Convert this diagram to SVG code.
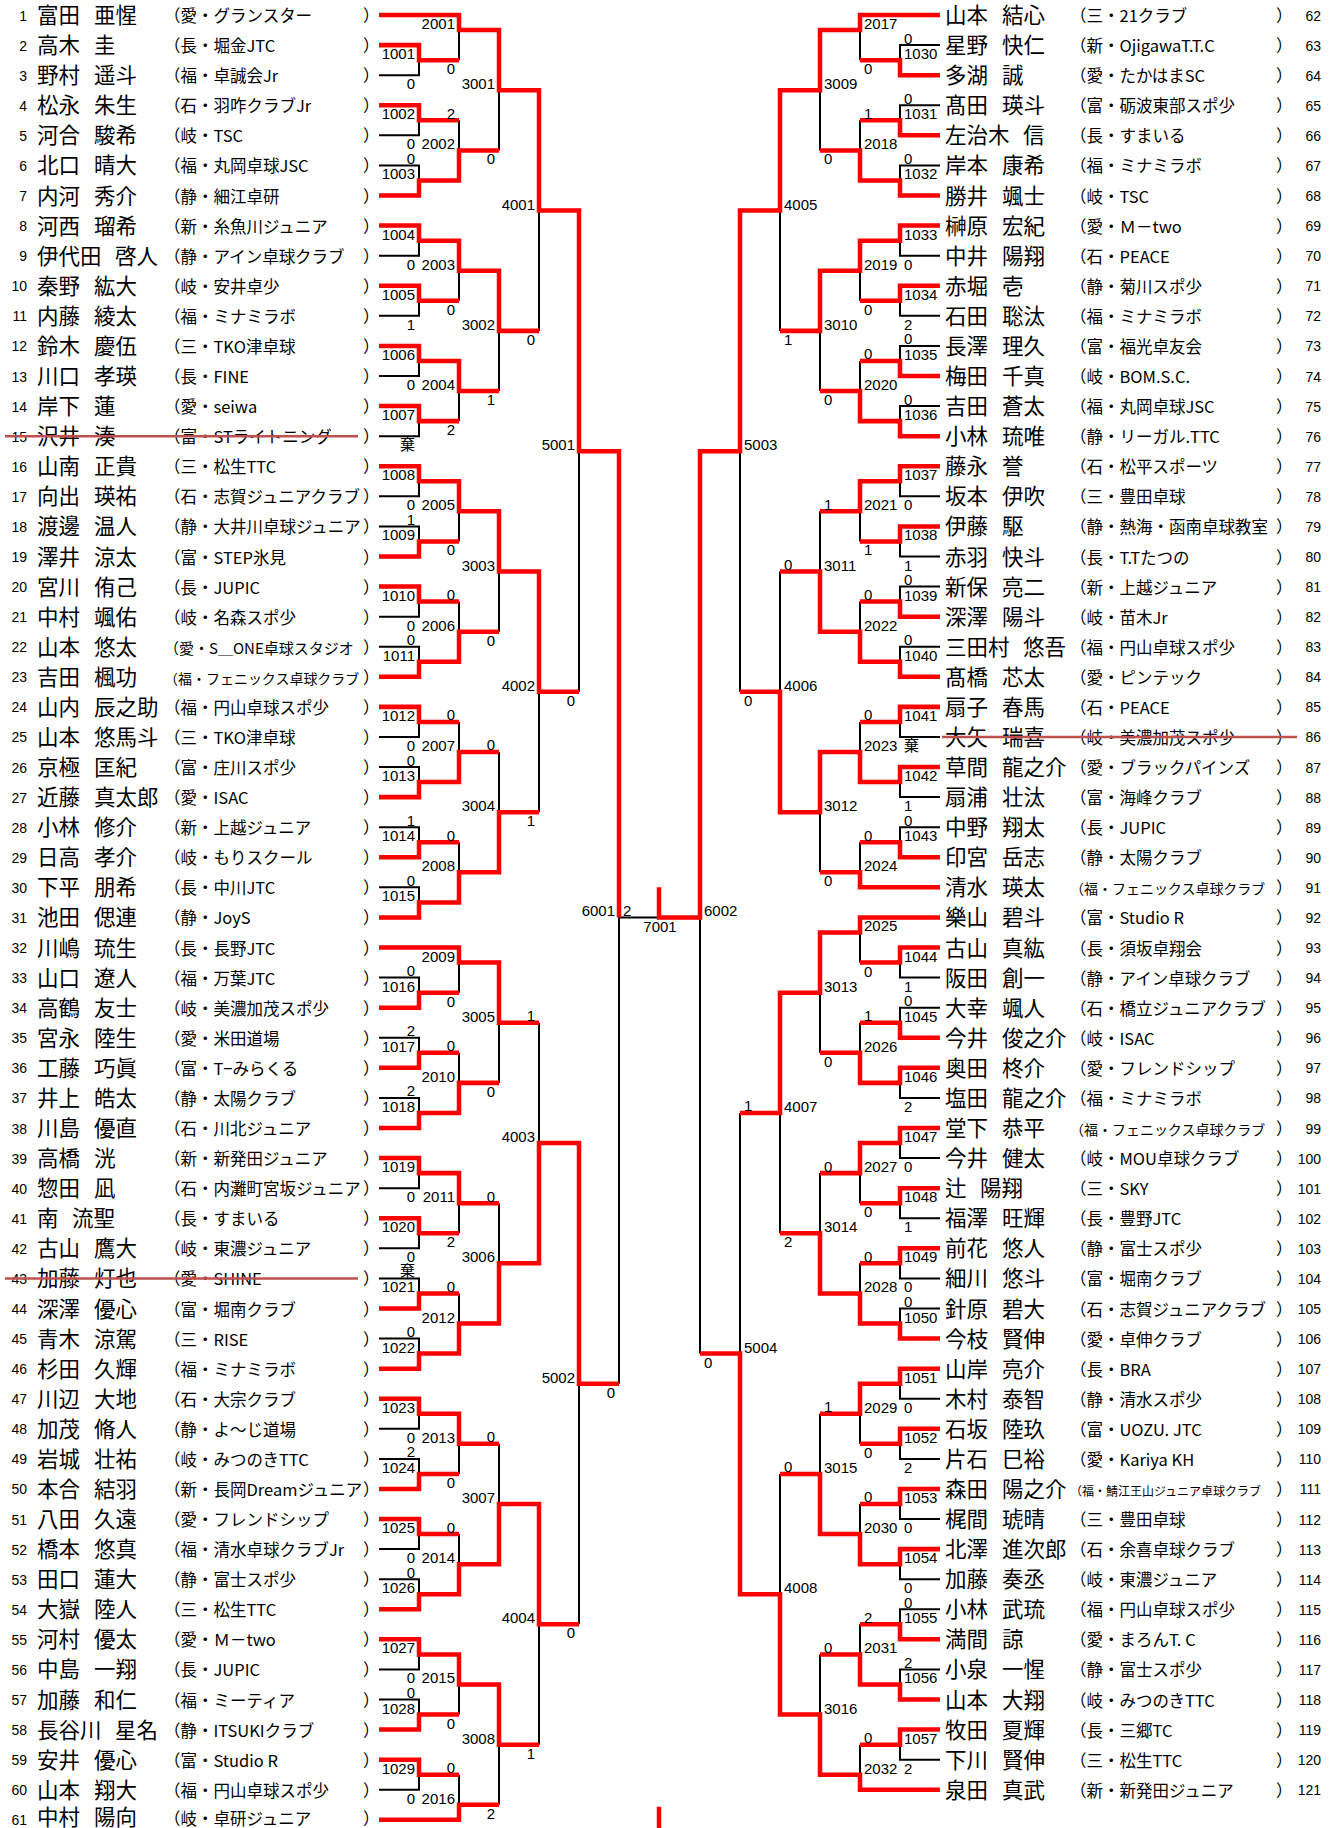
<svg xmlns="http://www.w3.org/2000/svg" width="1337" height="1828" viewBox="0 0 1337 1828">
<style>
.no{font:14px "Liberation Sans",Arial,sans-serif;text-anchor:end}
.nm{font:21.5px "Noto Sans CJK JP",sans-serif}
.cl{font:16.5px "Noto Sans CJK JP",sans-serif}
.cs{font-size:14px}
.cx{font-size:12px}
.lb{font:15px "Liberation Sans",Arial,sans-serif}
.e{text-anchor:end}
.m{text-anchor:middle}
.ki{font:15px "Noto Sans CJK JP",sans-serif}
.bk{fill:none;stroke:#000;stroke-width:2}
.rd{fill:none;stroke:#f00;stroke-width:4.5;stroke-linejoin:miter}
.sk{stroke:#c0504d;stroke-width:2.5}
</style>
<rect width="1337" height="1828" fill="#fff"/>
<g transform="matrix(1 0 0 1.002667 0 0)">
<g id="connectors">
<path class="bk" d="M379,15H459M379,45H419V75H379M419,60H459M379,105H419V135H379M419,120H459M379,165H419V195H379M419,180H459M379,225H419V255H379M419,240H459M379,285H419V315H379M419,300H459M379,345H419V375H379M419,360H459M379,405H419V435H379M419,420H459M379,465H419V495H379M419,480H459M379,525H419V555H379M419,540H459M379,585H419V615H379M419,600H459M379,645H419V675H379M419,660H459M379,705H419V735H379M419,720H459M379,765H419V795H379M419,780H459M379,825H419V855H379M419,840H459M379,885H419V915H379M419,900H459M379,945H459M379,975H419V1005H379M419,990H459M379,1035H419V1065H379M419,1050H459M379,1095H419V1125H379M419,1110H459M379,1155H419V1185H379M419,1170H459M379,1215H419V1245H379M419,1230H459M379,1275H419V1305H379M419,1290H459M379,1335H419V1365H379M419,1350H459M379,1395H419V1425H379M419,1410H459M379,1455H419V1485H379M419,1470H459M379,1515H419V1545H379M419,1530H459M379,1575H419V1605H379M419,1590H459M379,1635H419V1665H379M419,1650H459M379,1695H419V1725H379M419,1710H459M379,1755H419V1785H379M419,1770H459M379,1815H459
M459,15V60M459,30H499M459,120V180M459,150H499M459,240V300M459,270H499M459,360V420M459,390H499M459,480V540M459,510H499M459,600V660M459,630H499M459,720V780M459,750H499M459,840V900M459,870H499M459,945V990M459,960H499M459,1050V1110M459,1080H499M459,1170V1230M459,1200H499M459,1290V1350M459,1320H499M459,1410V1470M459,1440H499M459,1530V1590M459,1560H499M459,1650V1710M459,1680H499M459,1770V1815M459,1800H499
M499,30V150M499,90H539M499,270V390M499,330H539M499,510V630M499,570H539M499,750V870M499,810H539M499,960V1080M499,1020H539M499,1200V1320M499,1260H539M499,1440V1560M499,1500H539M499,1680V1800M499,1740H539
M539,90V330M539,210H579M539,570V810M539,690H579M539,1020V1260M539,1140H579M539,1500V1740M539,1620H579
M579,210V690M579,450H619M579,1140V1620M579,1380H619M619,450V1380M619,915H700"/>
<path class="bk" d="M940,15H860M940,45H900V75H940M900,60H860M940,105H900V135H940M900,120H860M940,165H900V195H940M900,180H860M940,225H900V255H940M900,240H860M940,285H900V315H940M900,300H860M940,345H900V375H940M900,360H860M940,405H900V435H940M900,420H860M940,465H900V495H940M900,480H860M940,525H900V555H940M900,540H860M940,585H900V615H940M900,600H860M940,645H900V675H940M900,660H860M940,705H900V735H940M900,720H860M940,765H900V795H940M900,780H860M940,825H900V855H940M900,840H860M940,885H860M940,915H860M940,945H900V975H940M900,960H860M940,1005H900V1035H940M900,1020H860M940,1065H900V1095H940M900,1080H860M940,1125H900V1155H940M900,1140H860M940,1185H900V1215H940M900,1200H860M940,1245H900V1275H940M900,1260H860M940,1305H900V1335H940M900,1320H860M940,1365H900V1395H940M900,1380H860M940,1425H900V1455H940M900,1440H860M940,1485H900V1515H940M900,1500H860M940,1545H900V1575H940M900,1560H860M940,1605H900V1635H940M900,1620H860M940,1665H900V1695H940M900,1680H860M940,1725H900V1755H940M900,1740H860M940,1785H860
M860,15V60M860,30H820M860,120V180M860,150H820M860,240V300M860,270H820M860,360V420M860,390H820M860,480V540M860,510H820M860,600V660M860,630H820M860,720V780M860,750H820M860,840V885M860,870H820M860,915V960M860,930H820M860,1020V1080M860,1050H820M860,1140V1200M860,1170H820M860,1260V1320M860,1290H820M860,1380V1440M860,1410H820M860,1500V1560M860,1530H820M860,1620V1680M860,1650H820M860,1740V1785M860,1770H820
M820,30V150M820,90H780M820,270V390M820,330H780M820,510V630M820,570H780M820,750V870M820,810H780M820,930V1050M820,990H780M820,1170V1290M820,1230H780M820,1410V1530M820,1470H780M820,1650V1770M820,1710H780
M780,90V330M780,210H740M780,570V810M780,690H740M780,990V1230M780,1110H740M780,1470V1710M780,1590H740
M740,210V690M740,450H700M740,1110V1590M740,1350H700M700,450V1350"/>
<path class="rd" d="M379,15H459V30H499V90H539V210H579V450H619V915M379,45H419V60H459M379,105H419V120H459M379,195H419V180H459V150H499M379,225H419V240H459V270H499V330H539M379,285H419V300H459M379,345H419V360H459V390H499M379,405H419V420H459M379,465H419V480H459V510H499V570H539V690H579M379,555H419V540H459M379,585H419V600H459M379,675H419V660H459V630H499M379,705H419V720H459M379,795H419V780H459V750H499M379,855H419V840H459M379,915H419V900H459V870H499V810H539M379,945H459V960H499V1020H539M379,1005H419V990H459M379,1065H419V1050H459M379,1125H419V1110H459V1080H499M379,1155H419V1170H459V1200H499M379,1215H419V1230H459M379,1305H419V1290H459M379,1365H419V1350H459V1320H499V1260H539V1140H579V1380H619M379,1395H419V1410H459V1440H499M379,1485H419V1470H459M379,1515H419V1530H459M379,1605H419V1590H459V1560H499V1500H539V1620H579M379,1635H419V1650H459V1680H499V1740H539M379,1725H419V1710H459M379,1755H419V1770H459M379,1815H459V1800H499"/>
<path class="rd" d="M940,15H860V30H820V90H780V210H740V450H700V915H659V885M940,75H900V60H860M940,135H900V120H860M940,195H900V180H860V150H820M940,225H900V240H860V270H820V330H780M940,285H900V300H860M940,375H900V360H860M940,435H900V420H860V390H820M940,465H900V480H860V510H820M940,525H900V540H860M940,615H900V600H860M940,675H900V660H860V630H820V570H780M940,705H900V720H860M940,765H900V780H860V750H820V810H780V690H740M940,855H900V840H860M940,885H860V870H820M940,915H860V930H820V990H780V1110H740M940,945H900V960H860M940,1035H900V1020H860M940,1065H900V1080H860V1050H820M940,1125H900V1140H860V1170H820M940,1185H900V1200H860M940,1245H900V1260H860M940,1335H900V1320H860V1290H820V1230H780M940,1365H900V1380H860V1410H820M940,1425H900V1440H860M940,1485H900V1500H860M940,1545H900V1560H860V1530H820V1470H780M940,1635H900V1620H860M940,1695H900V1680H860V1650H820M940,1725H900V1740H860M940,1785H860V1770H820V1710H780V1590H740V1350H700M659,1802V1830"/>
</g>
<g id="labels" class="lb">
<g class="e">
<text x="415" y="59">1001</text><text x="415" y="119">1002</text><text x="415" y="179">1003</text><text x="415" y="239">1004</text><text x="415" y="299">1005</text><text x="415" y="359">1006</text><text x="415" y="419">1007</text><text x="415" y="479">1008</text><text x="415" y="539">1009</text><text x="415" y="599">1010</text><text x="415" y="659">1011</text><text x="415" y="719">1012</text><text x="415" y="779">1013</text><text x="415" y="839">1014</text><text x="415" y="899">1015</text><text x="415" y="989">1016</text><text x="415" y="1049">1017</text><text x="415" y="1109">1018</text><text x="415" y="1169">1019</text><text x="415" y="1229">1020</text><text x="415" y="1289">1021</text><text x="415" y="1349">1022</text><text x="415" y="1409">1023</text><text x="415" y="1469">1024</text><text x="415" y="1529">1025</text><text x="415" y="1589">1026</text><text x="415" y="1649">1027</text><text x="415" y="1709">1028</text><text x="415" y="1769">1029</text>
<text x="455" y="29">2001</text><text x="455" y="149">2002</text><text x="455" y="269">2003</text><text x="455" y="389">2004</text><text x="455" y="509">2005</text><text x="455" y="629">2006</text><text x="455" y="749">2007</text><text x="455" y="869">2008</text><text x="455" y="959">2009</text><text x="455" y="1079">2010</text><text x="455" y="1199">2011</text><text x="455" y="1319">2012</text><text x="455" y="1439">2013</text><text x="455" y="1559">2014</text><text x="455" y="1679">2015</text><text x="455" y="1799">2016</text>
<text x="495" y="89">3001</text><text x="495" y="329">3002</text><text x="495" y="569">3003</text><text x="495" y="809">3004</text><text x="495" y="1019">3005</text><text x="495" y="1259">3006</text><text x="495" y="1499">3007</text><text x="495" y="1739">3008</text>
<text x="535" y="209">4001</text><text x="535" y="689">4002</text><text x="535" y="1139">4003</text><text x="535" y="1619">4004</text>
<text x="575" y="449">5001</text><text x="575" y="1379">5002</text><text x="615" y="914">6001</text>
<text x="415" y="89">0</text><text x="415" y="149">0</text><text x="415" y="163.5">0</text><text x="415" y="269">0</text><text x="415" y="329">1</text><text x="415" y="389">0</text><text x="415" y="509">0</text><text x="415" y="523.5">1</text><text x="415" y="629">0</text><text x="415" y="643.5">0</text><text x="415" y="749">0</text><text x="415" y="763.5">0</text><text x="415" y="823.5">1</text><text x="415" y="883.5">0</text><text x="415" y="973.5">0</text><text x="415" y="1033.5">2</text><text x="415" y="1093.5">2</text><text x="415" y="1199">0</text><text x="415" y="1259">0</text><text x="415" y="1333.5">0</text><text x="415" y="1439">0</text><text x="415" y="1453.5">2</text><text x="415" y="1559">0</text><text x="415" y="1573.5">0</text><text x="415" y="1679">0</text><text x="415" y="1693.5">0</text><text x="415" y="1799">0</text>
<text x="455" y="74">0</text><text x="455" y="118.5">2</text><text x="455" y="314">0</text><text x="455" y="434">2</text><text x="455" y="554">0</text><text x="455" y="598.5">0</text><text x="455" y="718.5">0</text><text x="455" y="838.5">0</text><text x="455" y="1004">0</text><text x="455" y="1048.5">0</text><text x="455" y="1244">2</text><text x="455" y="1288.5">0</text><text x="455" y="1484">0</text><text x="455" y="1528.5">0</text><text x="455" y="1724">0</text><text x="455" y="1768.5">0</text>
<text x="495" y="164">0</text><text x="495" y="404">1</text><text x="495" y="644">0</text><text x="495" y="748.5">0</text><text x="495" y="1094">0</text><text x="495" y="1198.5">0</text><text x="495" y="1438.5">0</text><text x="495" y="1814">2</text>
<text x="535" y="344">0</text><text x="535" y="824">1</text><text x="535" y="1018.5">1</text><text x="535" y="1754">1</text>
<text x="575" y="704">0</text><text x="575" y="1634">0</text><text x="615" y="1394">0</text>
</g>
<text x="623" y="914">2</text><text class="m" x="660" y="930">7001</text><text x="704" y="914">6002</text>
<text x="904" y="59">1030</text><text x="904" y="119">1031</text><text x="904" y="179">1032</text><text x="904" y="239">1033</text><text x="904" y="299">1034</text><text x="904" y="359">1035</text><text x="904" y="419">1036</text><text x="904" y="479">1037</text><text x="904" y="539">1038</text><text x="904" y="599">1039</text><text x="904" y="659">1040</text><text x="904" y="719">1041</text><text x="904" y="779">1042</text><text x="904" y="839">1043</text><text x="904" y="959">1044</text><text x="904" y="1019">1045</text><text x="904" y="1079">1046</text><text x="904" y="1139">1047</text><text x="904" y="1199">1048</text><text x="904" y="1259">1049</text><text x="904" y="1319">1050</text><text x="904" y="1379">1051</text><text x="904" y="1439">1052</text><text x="904" y="1499">1053</text><text x="904" y="1559">1054</text><text x="904" y="1619">1055</text><text x="904" y="1679">1056</text><text x="904" y="1739">1057</text>
<text x="864" y="29">2017</text><text x="864" y="149">2018</text><text x="864" y="269">2019</text><text x="864" y="389">2020</text><text x="864" y="509">2021</text><text x="864" y="629">2022</text><text x="864" y="749">2023</text><text x="864" y="869">2024</text><text x="864" y="929">2025</text><text x="864" y="1049">2026</text><text x="864" y="1169">2027</text><text x="864" y="1289">2028</text><text x="864" y="1409">2029</text><text x="864" y="1529">2030</text><text x="864" y="1649">2031</text><text x="864" y="1769">2032</text>
<text x="824" y="89">3009</text><text x="824" y="329">3010</text><text x="824" y="569">3011</text><text x="824" y="809">3012</text><text x="824" y="989">3013</text><text x="824" y="1229">3014</text><text x="824" y="1469">3015</text><text x="824" y="1709">3016</text>
<text x="784" y="209">4005</text><text x="784" y="689">4006</text><text x="784" y="1109">4007</text><text x="784" y="1589">4008</text>
<text x="744" y="449">5003</text><text x="744" y="1349">5004</text>
<text x="904" y="43.5">0</text><text x="904" y="103.5">0</text><text x="904" y="163.5">0</text><text x="904" y="269">0</text><text x="904" y="329">2</text><text x="904" y="343.5">0</text><text x="904" y="403.5">0</text><text x="904" y="509">0</text><text x="904" y="569">1</text><text x="904" y="583.5">0</text><text x="904" y="643.5">0</text><text x="904" y="809">1</text><text x="904" y="823.5">0</text><text x="904" y="989">1</text><text x="904" y="1003.5">0</text><text x="904" y="1109">2</text><text x="904" y="1169">0</text><text x="904" y="1229">1</text><text x="904" y="1289">0</text><text x="904" y="1303.5">0</text><text x="904" y="1409">0</text><text x="904" y="1469">2</text><text x="904" y="1529">0</text><text x="904" y="1589">0</text><text x="904" y="1603.5">0</text><text x="904" y="1663.5">2</text><text x="904" y="1769">2</text>
<text x="864" y="74">0</text><text x="864" y="118.5">1</text><text x="864" y="314">0</text><text x="864" y="358.5">0</text><text x="864" y="554">1</text><text x="864" y="598.5">0</text><text x="864" y="718.5">0</text><text x="864" y="838.5">0</text><text x="864" y="974">0</text><text x="864" y="1018.5">1</text><text x="864" y="1214">0</text><text x="864" y="1258.5">0</text><text x="864" y="1454">0</text><text x="864" y="1498.5">0</text><text x="864" y="1618.5">2</text><text x="864" y="1738.5">0</text>
<text x="824" y="164">0</text><text x="824" y="404">0</text><text x="824" y="508.5">1</text><text x="824" y="884">0</text><text x="824" y="1064">0</text><text x="824" y="1168.5">0</text><text x="824" y="1408.5">1</text><text x="824" y="1648.5">0</text>
<text x="784" y="344">1</text><text x="784" y="568.5">0</text><text x="784" y="1244">2</text><text x="784" y="1468.5">0</text>
<text x="744" y="704">0</text><text x="744" y="1108.5">1</text><text x="704" y="1364">0</text>
<text class="ki e" x="415" y="449">棄</text><text class="ki e" x="415" y="1273">棄</text><text class="ki" x="904" y="749">棄</text>
</g>
<g id="p1" transform="translate(0,15)"><text class="no" x="27" y="5.5">1</text><text class="nm" x="37" y="8">富田 <tspan x="94">亜惺</tspan></text><text class="cl" x="164" y="7">（愛・グランスター<tspan x="363">）</tspan></text></g>
<g id="p2" transform="translate(0,45)"><text class="no" x="27" y="5.5">2</text><text class="nm" x="37" y="8">高木 <tspan x="94">圭</tspan></text><text class="cl" x="164" y="7">（長・堀金JTC<tspan x="363">）</tspan></text></g>
<g id="p3" transform="translate(0,75)"><text class="no" x="27" y="5.5">3</text><text class="nm" x="37" y="8">野村 <tspan x="94">遥斗</tspan></text><text class="cl" x="164" y="7">（福・卓誠会Jr<tspan x="363">）</tspan></text></g>
<g id="p4" transform="translate(0,105)"><text class="no" x="27" y="5.5">4</text><text class="nm" x="37" y="8">松永 <tspan x="94">朱生</tspan></text><text class="cl" x="164" y="7">（石・羽咋クラブJr<tspan x="363">）</tspan></text></g>
<g id="p5" transform="translate(0,135)"><text class="no" x="27" y="5.5">5</text><text class="nm" x="37" y="8">河合 <tspan x="94">駿希</tspan></text><text class="cl" x="164" y="7">（岐・TSC<tspan x="363">）</tspan></text></g>
<g id="p6" transform="translate(0,165)"><text class="no" x="27" y="5.5">6</text><text class="nm" x="37" y="8">北口 <tspan x="94">晴大</tspan></text><text class="cl" x="164" y="7">（福・丸岡卓球JSC<tspan x="363">）</tspan></text></g>
<g id="p7" transform="translate(0,195)"><text class="no" x="27" y="5.5">7</text><text class="nm" x="37" y="8">内河 <tspan x="94">秀介</tspan></text><text class="cl" x="164" y="7">（静・細江卓研<tspan x="363">）</tspan></text></g>
<g id="p8" transform="translate(0,225)"><text class="no" x="27" y="5.5">8</text><text class="nm" x="37" y="8">河西 <tspan x="94">瑠希</tspan></text><text class="cl" x="164" y="7">（新・糸魚川ジュニア<tspan x="363">）</tspan></text></g>
<g id="p9" transform="translate(0,255)"><text class="no" x="27" y="5.5">9</text><text class="nm" x="37" y="8">伊代田 <tspan x="115">啓人</tspan></text><text class="cl" x="164" y="7">（静・アイン卓球クラブ<tspan x="363">）</tspan></text></g>
<g id="p10" transform="translate(0,285)"><text class="no" x="27" y="5.5">10</text><text class="nm" x="37" y="8">秦野 <tspan x="94">紘大</tspan></text><text class="cl" x="164" y="7">（岐・安井卓少<tspan x="363">）</tspan></text></g>
<g id="p11" transform="translate(0,315)"><text class="no" x="27" y="5.5">11</text><text class="nm" x="37" y="8">内藤 <tspan x="94">綾太</tspan></text><text class="cl" x="164" y="7">（福・ミナミラボ<tspan x="363">）</tspan></text></g>
<g id="p12" transform="translate(0,345)"><text class="no" x="27" y="5.5">12</text><text class="nm" x="37" y="8">鈴木 <tspan x="94">慶伍</tspan></text><text class="cl" x="164" y="7">（三・TKO津卓球<tspan x="363">）</tspan></text></g>
<g id="p13" transform="translate(0,375)"><text class="no" x="27" y="5.5">13</text><text class="nm" x="37" y="8">川口 <tspan x="94">孝瑛</tspan></text><text class="cl" x="164" y="7">（長・FINE<tspan x="363">）</tspan></text></g>
<g id="p14" transform="translate(0,405)"><text class="no" x="27" y="5.5">14</text><text class="nm" x="37" y="8">岸下 <tspan x="94">蓮</tspan></text><text class="cl" x="164" y="7">（愛・seiwa<tspan x="363">）</tspan></text></g>
<g id="p15" transform="translate(0,435)"><text class="no" x="27" y="5.5">15</text><text class="nm" x="37" y="8">沢井 <tspan x="94">湊</tspan></text><text class="cl" x="164" y="7">（富・STライトニング<tspan x="363">）</tspan></text><line class="sk" x1="5" y1="0" x2="358" y2="0"/></g>
<g id="p16" transform="translate(0,465)"><text class="no" x="27" y="5.5">16</text><text class="nm" x="37" y="8">山南 <tspan x="94">正貴</tspan></text><text class="cl" x="164" y="7">（三・松生TTC<tspan x="363">）</tspan></text></g>
<g id="p17" transform="translate(0,495)"><text class="no" x="27" y="5.5">17</text><text class="nm" x="37" y="8">向出 <tspan x="94">瑛祐</tspan></text><text class="cl" x="164" y="7">（石・志賀ジュニアクラブ<tspan x="363">）</tspan></text></g>
<g id="p18" transform="translate(0,525)"><text class="no" x="27" y="5.5">18</text><text class="nm" x="37" y="8">渡邊 <tspan x="94">温人</tspan></text><text class="cl" x="164" y="7">（静・大井川卓球ジュニア<tspan x="363">）</tspan></text></g>
<g id="p19" transform="translate(0,555)"><text class="no" x="27" y="5.5">19</text><text class="nm" x="37" y="8">澤井 <tspan x="94">涼太</tspan></text><text class="cl" x="164" y="7">（富・STEP氷見<tspan x="363">）</tspan></text></g>
<g id="p20" transform="translate(0,585)"><text class="no" x="27" y="5.5">20</text><text class="nm" x="37" y="8">宮川 <tspan x="94">侑己</tspan></text><text class="cl" x="164" y="7">（長・JUPIC<tspan x="363">）</tspan></text></g>
<g id="p21" transform="translate(0,615)"><text class="no" x="27" y="5.5">21</text><text class="nm" x="37" y="8">中村 <tspan x="94">颯佑</tspan></text><text class="cl" x="164" y="7">（岐・名森スポ少<tspan x="363">）</tspan></text></g>
<g id="p22" transform="translate(0,645)"><text class="no" x="27" y="5.5">22</text><text class="nm" x="37" y="8">山本 <tspan x="94">悠太</tspan></text><text class="cl" x="164" y="7"><tspan style="font-size:15px">（愛・S＿ONE卓球スタジオ</tspan><tspan x="363">）</tspan></text></g>
<g id="p23" transform="translate(0,675)"><text class="no" x="27" y="5.5">23</text><text class="nm" x="37" y="8">吉田 <tspan x="94">楓功</tspan></text><text class="cl" x="164" y="7"><tspan class="cs">（福・フェニックス卓球クラブ</tspan><tspan x="363">）</tspan></text></g>
<g id="p24" transform="translate(0,705)"><text class="no" x="27" y="5.5">24</text><text class="nm" x="37" y="8">山内 <tspan x="94">辰之助</tspan></text><text class="cl" x="164" y="7">（福・円山卓球スポ少<tspan x="363">）</tspan></text></g>
<g id="p25" transform="translate(0,735)"><text class="no" x="27" y="5.5">25</text><text class="nm" x="37" y="8">山本 <tspan x="94">悠馬斗</tspan></text><text class="cl" x="164" y="7">（三・TKO津卓球<tspan x="363">）</tspan></text></g>
<g id="p26" transform="translate(0,765)"><text class="no" x="27" y="5.5">26</text><text class="nm" x="37" y="8">京極 <tspan x="94">匡紀</tspan></text><text class="cl" x="164" y="7">（富・庄川スポ少<tspan x="363">）</tspan></text></g>
<g id="p27" transform="translate(0,795)"><text class="no" x="27" y="5.5">27</text><text class="nm" x="37" y="8">近藤 <tspan x="94">真太郎</tspan></text><text class="cl" x="164" y="7">（愛・ISAC<tspan x="363">）</tspan></text></g>
<g id="p28" transform="translate(0,825)"><text class="no" x="27" y="5.5">28</text><text class="nm" x="37" y="8">小林 <tspan x="94">修介</tspan></text><text class="cl" x="164" y="7">（新・上越ジュニア<tspan x="363">）</tspan></text></g>
<g id="p29" transform="translate(0,855)"><text class="no" x="27" y="5.5">29</text><text class="nm" x="37" y="8">日高 <tspan x="94">孝介</tspan></text><text class="cl" x="164" y="7">（岐・もりスクール<tspan x="363">）</tspan></text></g>
<g id="p30" transform="translate(0,885)"><text class="no" x="27" y="5.5">30</text><text class="nm" x="37" y="8">下平 <tspan x="94">朋希</tspan></text><text class="cl" x="164" y="7">（長・中川JTC<tspan x="363">）</tspan></text></g>
<g id="p31" transform="translate(0,915)"><text class="no" x="27" y="5.5">31</text><text class="nm" x="37" y="8">池田 <tspan x="94">偲連</tspan></text><text class="cl" x="164" y="7">（静・JoyS<tspan x="363">）</tspan></text></g>
<g id="p32" transform="translate(0,945)"><text class="no" x="27" y="5.5">32</text><text class="nm" x="37" y="8">川嶋 <tspan x="94">琉生</tspan></text><text class="cl" x="164" y="7">（長・長野JTC<tspan x="363">）</tspan></text></g>
<g id="p33" transform="translate(0,975)"><text class="no" x="27" y="5.5">33</text><text class="nm" x="37" y="8">山口 <tspan x="94">遼人</tspan></text><text class="cl" x="164" y="7">（福・万葉JTC<tspan x="363">）</tspan></text></g>
<g id="p34" transform="translate(0,1005)"><text class="no" x="27" y="5.5">34</text><text class="nm" x="37" y="8">高鶴 <tspan x="94">友士</tspan></text><text class="cl" x="164" y="7">（岐・美濃加茂スポ少<tspan x="363">）</tspan></text></g>
<g id="p35" transform="translate(0,1035)"><text class="no" x="27" y="5.5">35</text><text class="nm" x="37" y="8">宮永 <tspan x="94">陸生</tspan></text><text class="cl" x="164" y="7">（愛・米田道場<tspan x="363">）</tspan></text></g>
<g id="p36" transform="translate(0,1065)"><text class="no" x="27" y="5.5">36</text><text class="nm" x="37" y="8">工藤 <tspan x="94">巧眞</tspan></text><text class="cl" x="164" y="7">（富・T−みらくる<tspan x="363">）</tspan></text></g>
<g id="p37" transform="translate(0,1095)"><text class="no" x="27" y="5.5">37</text><text class="nm" x="37" y="8">井上 <tspan x="94">皓太</tspan></text><text class="cl" x="164" y="7">（静・太陽クラブ<tspan x="363">）</tspan></text></g>
<g id="p38" transform="translate(0,1125)"><text class="no" x="27" y="5.5">38</text><text class="nm" x="37" y="8">川島 <tspan x="94">優直</tspan></text><text class="cl" x="164" y="7">（石・川北ジュニア<tspan x="363">）</tspan></text></g>
<g id="p39" transform="translate(0,1155)"><text class="no" x="27" y="5.5">39</text><text class="nm" x="37" y="8">高橋 <tspan x="94">洸</tspan></text><text class="cl" x="164" y="7">（新・新発田ジュニア<tspan x="363">）</tspan></text></g>
<g id="p40" transform="translate(0,1185)"><text class="no" x="27" y="5.5">40</text><text class="nm" x="37" y="8">惣田 <tspan x="94">凪</tspan></text><text class="cl" x="164" y="7">（石・内灘町宮坂ジュニア<tspan x="363">）</tspan></text></g>
<g id="p41" transform="translate(0,1215)"><text class="no" x="27" y="5.5">41</text><text class="nm" x="37" y="8">南 <tspan x="72">流聖</tspan></text><text class="cl" x="164" y="7">（長・すまいる<tspan x="363">）</tspan></text></g>
<g id="p42" transform="translate(0,1245)"><text class="no" x="27" y="5.5">42</text><text class="nm" x="37" y="8">古山 <tspan x="94">鷹大</tspan></text><text class="cl" x="164" y="7">（岐・東濃ジュニア<tspan x="363">）</tspan></text></g>
<g id="p43" transform="translate(0,1275)"><text class="no" x="27" y="5.5">43</text><text class="nm" x="37" y="8">加藤 <tspan x="94">灯也</tspan></text><text class="cl" x="164" y="7">（愛・SHINE<tspan x="363">）</tspan></text><line class="sk" x1="5" y1="0" x2="358" y2="0"/></g>
<g id="p44" transform="translate(0,1305)"><text class="no" x="27" y="5.5">44</text><text class="nm" x="37" y="8">深澤 <tspan x="94">優心</tspan></text><text class="cl" x="164" y="7">（富・堀南クラブ<tspan x="363">）</tspan></text></g>
<g id="p45" transform="translate(0,1335)"><text class="no" x="27" y="5.5">45</text><text class="nm" x="37" y="8">青木 <tspan x="94">涼駕</tspan></text><text class="cl" x="164" y="7">（三・RISE<tspan x="363">）</tspan></text></g>
<g id="p46" transform="translate(0,1365)"><text class="no" x="27" y="5.5">46</text><text class="nm" x="37" y="8">杉田 <tspan x="94">久輝</tspan></text><text class="cl" x="164" y="7">（福・ミナミラボ<tspan x="363">）</tspan></text></g>
<g id="p47" transform="translate(0,1395)"><text class="no" x="27" y="5.5">47</text><text class="nm" x="37" y="8">川辺 <tspan x="94">大地</tspan></text><text class="cl" x="164" y="7">（石・大宗クラブ<tspan x="363">）</tspan></text></g>
<g id="p48" transform="translate(0,1425)"><text class="no" x="27" y="5.5">48</text><text class="nm" x="37" y="8">加茂 <tspan x="94">脩人</tspan></text><text class="cl" x="164" y="7">（静・よ〜じ道場<tspan x="363">）</tspan></text></g>
<g id="p49" transform="translate(0,1455)"><text class="no" x="27" y="5.5">49</text><text class="nm" x="37" y="8">岩城 <tspan x="94">壮祐</tspan></text><text class="cl" x="164" y="7">（岐・みつのきTTC<tspan x="363">）</tspan></text></g>
<g id="p50" transform="translate(0,1485)"><text class="no" x="27" y="5.5">50</text><text class="nm" x="37" y="8">本合 <tspan x="94">結羽</tspan></text><text class="cl" x="164" y="7">（新・長岡Dreamジュニア<tspan x="363">）</tspan></text></g>
<g id="p51" transform="translate(0,1515)"><text class="no" x="27" y="5.5">51</text><text class="nm" x="37" y="8">八田 <tspan x="94">久遠</tspan></text><text class="cl" x="164" y="7">（愛・フレンドシップ<tspan x="363">）</tspan></text></g>
<g id="p52" transform="translate(0,1545)"><text class="no" x="27" y="5.5">52</text><text class="nm" x="37" y="8">橋本 <tspan x="94">悠真</tspan></text><text class="cl" x="164" y="7">（福・清水卓球クラブJr<tspan x="363">）</tspan></text></g>
<g id="p53" transform="translate(0,1575)"><text class="no" x="27" y="5.5">53</text><text class="nm" x="37" y="8">田口 <tspan x="94">蓮大</tspan></text><text class="cl" x="164" y="7">（静・富士スポ少<tspan x="363">）</tspan></text></g>
<g id="p54" transform="translate(0,1605)"><text class="no" x="27" y="5.5">54</text><text class="nm" x="37" y="8">大嶽 <tspan x="94">陸人</tspan></text><text class="cl" x="164" y="7">（三・松生TTC<tspan x="363">）</tspan></text></g>
<g id="p55" transform="translate(0,1635)"><text class="no" x="27" y="5.5">55</text><text class="nm" x="37" y="8">河村 <tspan x="94">優太</tspan></text><text class="cl" x="164" y="7">（愛・Ｍ－two<tspan x="363">）</tspan></text></g>
<g id="p56" transform="translate(0,1665)"><text class="no" x="27" y="5.5">56</text><text class="nm" x="37" y="8">中島 <tspan x="94">一翔</tspan></text><text class="cl" x="164" y="7">（長・JUPIC<tspan x="363">）</tspan></text></g>
<g id="p57" transform="translate(0,1695)"><text class="no" x="27" y="5.5">57</text><text class="nm" x="37" y="8">加藤 <tspan x="94">和仁</tspan></text><text class="cl" x="164" y="7">（福・ミーティア<tspan x="363">）</tspan></text></g>
<g id="p58" transform="translate(0,1725)"><text class="no" x="27" y="5.5">58</text><text class="nm" x="37" y="8">長谷川 <tspan x="115">星名</tspan></text><text class="cl" x="164" y="7">（静・ITSUKIクラブ<tspan x="363">）</tspan></text></g>
<g id="p59" transform="translate(0,1755)"><text class="no" x="27" y="5.5">59</text><text class="nm" x="37" y="8">安井 <tspan x="94">優心</tspan></text><text class="cl" x="164" y="7">（富・Studio R<tspan x="363">）</tspan></text></g>
<g id="p60" transform="translate(0,1785)"><text class="no" x="27" y="5.5">60</text><text class="nm" x="37" y="8">山本 <tspan x="94">翔大</tspan></text><text class="cl" x="164" y="7">（福・円山卓球スポ少<tspan x="363">）</tspan></text></g>
<g id="p61" transform="translate(0,1815)"><text class="no" x="27" y="5">61</text><text class="nm" x="37" y="5.5">中村 <tspan x="94">陽向</tspan></text><text class="cl" x="164" y="5.5">（岐・卓研ジュニア<tspan x="363">）</tspan></text></g>
<g id="p62" transform="translate(0,15)"><text class="nm" x="945" y="8">山本 <tspan x="1002">結心</tspan></text><text class="cl" x="1070" y="7">（三・21クラブ<tspan x="1276">）</tspan></text><text class="no" x="1321" y="5.5">62</text></g>
<g id="p63" transform="translate(0,45)"><text class="nm" x="945" y="8">星野 <tspan x="1002">快仁</tspan></text><text class="cl" x="1070" y="7">（新・OjigawaT.T.C<tspan x="1276">）</tspan></text><text class="no" x="1321" y="5.5">63</text></g>
<g id="p64" transform="translate(0,75)"><text class="nm" x="945" y="8">多湖 <tspan x="1002">誠</tspan></text><text class="cl" x="1070" y="7">（愛・たかはまSC<tspan x="1276">）</tspan></text><text class="no" x="1321" y="5.5">64</text></g>
<g id="p65" transform="translate(0,105)"><text class="nm" x="945" y="8">髙田 <tspan x="1002">瑛斗</tspan></text><text class="cl" x="1070" y="7">（富・砺波東部スポ少<tspan x="1276">）</tspan></text><text class="no" x="1321" y="5.5">65</text></g>
<g id="p66" transform="translate(0,135)"><text class="nm" x="945" y="8">左治木 <tspan x="1023">信</tspan></text><text class="cl" x="1070" y="7">（長・すまいる<tspan x="1276">）</tspan></text><text class="no" x="1321" y="5.5">66</text></g>
<g id="p67" transform="translate(0,165)"><text class="nm" x="945" y="8">岸本 <tspan x="1002">康希</tspan></text><text class="cl" x="1070" y="7">（福・ミナミラボ<tspan x="1276">）</tspan></text><text class="no" x="1321" y="5.5">67</text></g>
<g id="p68" transform="translate(0,195)"><text class="nm" x="945" y="8">勝井 <tspan x="1002">颯士</tspan></text><text class="cl" x="1070" y="7">（岐・TSC<tspan x="1276">）</tspan></text><text class="no" x="1321" y="5.5">68</text></g>
<g id="p69" transform="translate(0,225)"><text class="nm" x="945" y="8">榊原 <tspan x="1002">宏紀</tspan></text><text class="cl" x="1070" y="7">（愛・Ｍ－two<tspan x="1276">）</tspan></text><text class="no" x="1321" y="5.5">69</text></g>
<g id="p70" transform="translate(0,255)"><text class="nm" x="945" y="8">中井 <tspan x="1002">陽翔</tspan></text><text class="cl" x="1070" y="7">（石・PEACE<tspan x="1276">）</tspan></text><text class="no" x="1321" y="5.5">70</text></g>
<g id="p71" transform="translate(0,285)"><text class="nm" x="945" y="8">赤堀 <tspan x="1002">壱</tspan></text><text class="cl" x="1070" y="7">（静・菊川スポ少<tspan x="1276">）</tspan></text><text class="no" x="1321" y="5.5">71</text></g>
<g id="p72" transform="translate(0,315)"><text class="nm" x="945" y="8">石田 <tspan x="1002">聡汰</tspan></text><text class="cl" x="1070" y="7">（福・ミナミラボ<tspan x="1276">）</tspan></text><text class="no" x="1321" y="5.5">72</text></g>
<g id="p73" transform="translate(0,345)"><text class="nm" x="945" y="8">長澤 <tspan x="1002">理久</tspan></text><text class="cl" x="1070" y="7">（富・福光卓友会<tspan x="1276">）</tspan></text><text class="no" x="1321" y="5.5">73</text></g>
<g id="p74" transform="translate(0,375)"><text class="nm" x="945" y="8">梅田 <tspan x="1002">千真</tspan></text><text class="cl" x="1070" y="7">（岐・BOM.S.C.<tspan x="1276">）</tspan></text><text class="no" x="1321" y="5.5">74</text></g>
<g id="p75" transform="translate(0,405)"><text class="nm" x="945" y="8">吉田 <tspan x="1002">蒼太</tspan></text><text class="cl" x="1070" y="7">（福・丸岡卓球JSC<tspan x="1276">）</tspan></text><text class="no" x="1321" y="5.5">75</text></g>
<g id="p76" transform="translate(0,435)"><text class="nm" x="945" y="8">小林 <tspan x="1002">琉唯</tspan></text><text class="cl" x="1070" y="7">（静・リーガル.TTC<tspan x="1276">）</tspan></text><text class="no" x="1321" y="5.5">76</text></g>
<g id="p77" transform="translate(0,465)"><text class="nm" x="945" y="8">藤永 <tspan x="1002">誉</tspan></text><text class="cl" x="1070" y="7">（石・松平スポーツ<tspan x="1276">）</tspan></text><text class="no" x="1321" y="5.5">77</text></g>
<g id="p78" transform="translate(0,495)"><text class="nm" x="945" y="8">坂本 <tspan x="1002">伊吹</tspan></text><text class="cl" x="1070" y="7">（三・豊田卓球<tspan x="1276">）</tspan></text><text class="no" x="1321" y="5.5">78</text></g>
<g id="p79" transform="translate(0,525)"><text class="nm" x="945" y="8">伊藤 <tspan x="1002">駆</tspan></text><text class="cl" x="1070" y="7">（静・熱海・函南卓球教室<tspan x="1276">）</tspan></text><text class="no" x="1321" y="5.5">79</text></g>
<g id="p80" transform="translate(0,555)"><text class="nm" x="945" y="8">赤羽 <tspan x="1002">快斗</tspan></text><text class="cl" x="1070" y="7">（長・T.Tたつの<tspan x="1276">）</tspan></text><text class="no" x="1321" y="5.5">80</text></g>
<g id="p81" transform="translate(0,585)"><text class="nm" x="945" y="8">新保 <tspan x="1002">亮二</tspan></text><text class="cl" x="1070" y="7">（新・上越ジュニア<tspan x="1276">）</tspan></text><text class="no" x="1321" y="5.5">81</text></g>
<g id="p82" transform="translate(0,615)"><text class="nm" x="945" y="8">深澤 <tspan x="1002">陽斗</tspan></text><text class="cl" x="1070" y="7">（岐・苗木Jr<tspan x="1276">）</tspan></text><text class="no" x="1321" y="5.5">82</text></g>
<g id="p83" transform="translate(0,645)"><text class="nm" x="945" y="8">三田村 <tspan x="1023">悠吾</tspan></text><text class="cl" x="1070" y="7">（福・円山卓球スポ少<tspan x="1276">）</tspan></text><text class="no" x="1321" y="5.5">83</text></g>
<g id="p84" transform="translate(0,675)"><text class="nm" x="945" y="8">髙橋 <tspan x="1002">芯太</tspan></text><text class="cl" x="1070" y="7">（愛・ピンテック<tspan x="1276">）</tspan></text><text class="no" x="1321" y="5.5">84</text></g>
<g id="p85" transform="translate(0,705)"><text class="nm" x="945" y="8">扇子 <tspan x="1002">春馬</tspan></text><text class="cl" x="1070" y="7">（石・PEACE<tspan x="1276">）</tspan></text><text class="no" x="1321" y="5.5">85</text></g>
<g id="p86" transform="translate(0,735)"><text class="nm" x="945" y="8">大矢 <tspan x="1002">瑞喜</tspan></text><text class="cl" x="1070" y="7">（岐・美濃加茂スポ少<tspan x="1276">）</tspan></text><text class="no" x="1321" y="5.5">86</text><line class="sk" x1="942" y1="0" x2="1297" y2="0"/></g>
<g id="p87" transform="translate(0,765)"><text class="nm" x="945" y="8">草間 <tspan x="1002">龍之介</tspan></text><text class="cl" x="1070" y="7">（愛・ブラックパインズ<tspan x="1276">）</tspan></text><text class="no" x="1321" y="5.5">87</text></g>
<g id="p88" transform="translate(0,795)"><text class="nm" x="945" y="8">扇浦 <tspan x="1002">壮汰</tspan></text><text class="cl" x="1070" y="7">（富・海峰クラブ<tspan x="1276">）</tspan></text><text class="no" x="1321" y="5.5">88</text></g>
<g id="p89" transform="translate(0,825)"><text class="nm" x="945" y="8">中野 <tspan x="1002">翔太</tspan></text><text class="cl" x="1070" y="7">（長・JUPIC<tspan x="1276">）</tspan></text><text class="no" x="1321" y="5.5">89</text></g>
<g id="p90" transform="translate(0,855)"><text class="nm" x="945" y="8">印宮 <tspan x="1002">岳志</tspan></text><text class="cl" x="1070" y="7">（静・太陽クラブ<tspan x="1276">）</tspan></text><text class="no" x="1321" y="5.5">90</text></g>
<g id="p91" transform="translate(0,885)"><text class="nm" x="945" y="8">清水 <tspan x="1002">瑛太</tspan></text><text class="cl" x="1070" y="7"><tspan class="cs">（福・フェニックス卓球クラブ</tspan><tspan x="1276">）</tspan></text><text class="no" x="1321" y="5.5">91</text></g>
<g id="p92" transform="translate(0,915)"><text class="nm" x="945" y="8">樂山 <tspan x="1002">碧斗</tspan></text><text class="cl" x="1070" y="7">（富・Studio R<tspan x="1276">）</tspan></text><text class="no" x="1321" y="5.5">92</text></g>
<g id="p93" transform="translate(0,945)"><text class="nm" x="945" y="8">古山 <tspan x="1002">真紘</tspan></text><text class="cl" x="1070" y="7">（長・須坂卓翔会<tspan x="1276">）</tspan></text><text class="no" x="1321" y="5.5">93</text></g>
<g id="p94" transform="translate(0,975)"><text class="nm" x="945" y="8">阪田 <tspan x="1002">創一</tspan></text><text class="cl" x="1070" y="7">（静・アイン卓球クラブ<tspan x="1276">）</tspan></text><text class="no" x="1321" y="5.5">94</text></g>
<g id="p95" transform="translate(0,1005)"><text class="nm" x="945" y="8">大幸 <tspan x="1002">颯人</tspan></text><text class="cl" x="1070" y="7">（石・橋立ジュニアクラブ<tspan x="1276">）</tspan></text><text class="no" x="1321" y="5.5">95</text></g>
<g id="p96" transform="translate(0,1035)"><text class="nm" x="945" y="8">今井 <tspan x="1002">俊之介</tspan></text><text class="cl" x="1070" y="7">（岐・ISAC<tspan x="1276">）</tspan></text><text class="no" x="1321" y="5.5">96</text></g>
<g id="p97" transform="translate(0,1065)"><text class="nm" x="945" y="8">奥田 <tspan x="1002">柊介</tspan></text><text class="cl" x="1070" y="7">（愛・フレンドシップ<tspan x="1276">）</tspan></text><text class="no" x="1321" y="5.5">97</text></g>
<g id="p98" transform="translate(0,1095)"><text class="nm" x="945" y="8">塩田 <tspan x="1002">龍之介</tspan></text><text class="cl" x="1070" y="7">（福・ミナミラボ<tspan x="1276">）</tspan></text><text class="no" x="1321" y="5.5">98</text></g>
<g id="p99" transform="translate(0,1125)"><text class="nm" x="945" y="8">堂下 <tspan x="1002">恭平</tspan></text><text class="cl" x="1070" y="7"><tspan class="cs">（福・フェニックス卓球クラブ</tspan><tspan x="1276">）</tspan></text><text class="no" x="1321" y="5.5">99</text></g>
<g id="p100" transform="translate(0,1155)"><text class="nm" x="945" y="8">今井 <tspan x="1002">健太</tspan></text><text class="cl" x="1070" y="7">（岐・MOU卓球クラブ<tspan x="1276">）</tspan></text><text class="no" x="1321" y="5.5">100</text></g>
<g id="p101" transform="translate(0,1185)"><text class="nm" x="945" y="8">辻 <tspan x="980">陽翔</tspan></text><text class="cl" x="1070" y="7">（三・SKY<tspan x="1276">）</tspan></text><text class="no" x="1321" y="5.5">101</text></g>
<g id="p102" transform="translate(0,1215)"><text class="nm" x="945" y="8">福澤 <tspan x="1002">旺輝</tspan></text><text class="cl" x="1070" y="7">（長・豊野JTC<tspan x="1276">）</tspan></text><text class="no" x="1321" y="5.5">102</text></g>
<g id="p103" transform="translate(0,1245)"><text class="nm" x="945" y="8">前花 <tspan x="1002">悠人</tspan></text><text class="cl" x="1070" y="7">（静・富士スポ少<tspan x="1276">）</tspan></text><text class="no" x="1321" y="5.5">103</text></g>
<g id="p104" transform="translate(0,1275)"><text class="nm" x="945" y="8">細川 <tspan x="1002">悠斗</tspan></text><text class="cl" x="1070" y="7">（富・堀南クラブ<tspan x="1276">）</tspan></text><text class="no" x="1321" y="5.5">104</text></g>
<g id="p105" transform="translate(0,1305)"><text class="nm" x="945" y="8">針原 <tspan x="1002">碧大</tspan></text><text class="cl" x="1070" y="7">（石・志賀ジュニアクラブ<tspan x="1276">）</tspan></text><text class="no" x="1321" y="5.5">105</text></g>
<g id="p106" transform="translate(0,1335)"><text class="nm" x="945" y="8">今枝 <tspan x="1002">賢伸</tspan></text><text class="cl" x="1070" y="7">（愛・卓伸クラブ<tspan x="1276">）</tspan></text><text class="no" x="1321" y="5.5">106</text></g>
<g id="p107" transform="translate(0,1365)"><text class="nm" x="945" y="8">山岸 <tspan x="1002">亮介</tspan></text><text class="cl" x="1070" y="7">（長・BRA<tspan x="1276">）</tspan></text><text class="no" x="1321" y="5.5">107</text></g>
<g id="p108" transform="translate(0,1395)"><text class="nm" x="945" y="8">木村 <tspan x="1002">泰智</tspan></text><text class="cl" x="1070" y="7">（静・清水スポ少<tspan x="1276">）</tspan></text><text class="no" x="1321" y="5.5">108</text></g>
<g id="p109" transform="translate(0,1425)"><text class="nm" x="945" y="8">石坂 <tspan x="1002">陸玖</tspan></text><text class="cl" x="1070" y="7">（富・UOZU. JTC<tspan x="1276">）</tspan></text><text class="no" x="1321" y="5.5">109</text></g>
<g id="p110" transform="translate(0,1455)"><text class="nm" x="945" y="8">片石 <tspan x="1002">巳裕</tspan></text><text class="cl" x="1070" y="7">（愛・Kariya KH<tspan x="1276">）</tspan></text><text class="no" x="1321" y="5.5">110</text></g>
<g id="p111" transform="translate(0,1485)"><text class="nm" x="945" y="8">森田 <tspan x="1002">陽之介</tspan></text><text class="cl" x="1070" y="7"><tspan class="cx">（福・鯖江王山ジュニア卓球クラブ</tspan><tspan x="1276">）</tspan></text><text class="no" x="1321" y="5.5">111</text></g>
<g id="p112" transform="translate(0,1515)"><text class="nm" x="945" y="8">梶間 <tspan x="1002">琥晴</tspan></text><text class="cl" x="1070" y="7">（三・豊田卓球<tspan x="1276">）</tspan></text><text class="no" x="1321" y="5.5">112</text></g>
<g id="p113" transform="translate(0,1545)"><text class="nm" x="945" y="8">北澤 <tspan x="1002">進次郎</tspan></text><text class="cl" x="1070" y="7">（石・余喜卓球クラブ<tspan x="1276">）</tspan></text><text class="no" x="1321" y="5.5">113</text></g>
<g id="p114" transform="translate(0,1575)"><text class="nm" x="945" y="8">加藤 <tspan x="1002">奏丞</tspan></text><text class="cl" x="1070" y="7">（岐・東濃ジュニア<tspan x="1276">）</tspan></text><text class="no" x="1321" y="5.5">114</text></g>
<g id="p115" transform="translate(0,1605)"><text class="nm" x="945" y="8">小林 <tspan x="1002">武琉</tspan></text><text class="cl" x="1070" y="7">（福・円山卓球スポ少<tspan x="1276">）</tspan></text><text class="no" x="1321" y="5.5">115</text></g>
<g id="p116" transform="translate(0,1635)"><text class="nm" x="945" y="8">満間 <tspan x="1002">諒</tspan></text><text class="cl" x="1070" y="7">（愛・まろんT. C<tspan x="1276">）</tspan></text><text class="no" x="1321" y="5.5">116</text></g>
<g id="p117" transform="translate(0,1665)"><text class="nm" x="945" y="8">小泉 <tspan x="1002">一惺</tspan></text><text class="cl" x="1070" y="7">（静・富士スポ少<tspan x="1276">）</tspan></text><text class="no" x="1321" y="5.5">117</text></g>
<g id="p118" transform="translate(0,1695)"><text class="nm" x="945" y="8">山本 <tspan x="1002">大翔</tspan></text><text class="cl" x="1070" y="7">（岐・みつのきTTC<tspan x="1276">）</tspan></text><text class="no" x="1321" y="5.5">118</text></g>
<g id="p119" transform="translate(0,1725)"><text class="nm" x="945" y="8">牧田 <tspan x="1002">夏輝</tspan></text><text class="cl" x="1070" y="7">（長・三郷TC<tspan x="1276">）</tspan></text><text class="no" x="1321" y="5.5">119</text></g>
<g id="p120" transform="translate(0,1755)"><text class="nm" x="945" y="8">下川 <tspan x="1002">賢伸</tspan></text><text class="cl" x="1070" y="7">（三・松生TTC<tspan x="1276">）</tspan></text><text class="no" x="1321" y="5.5">120</text></g>
<g id="p121" transform="translate(0,1785)"><text class="nm" x="945" y="8">泉田 <tspan x="1002">真武</tspan></text><text class="cl" x="1070" y="7">（新・新発田ジュニア<tspan x="1276">）</tspan></text><text class="no" x="1321" y="5.5">121</text></g>
</g>
</svg>
